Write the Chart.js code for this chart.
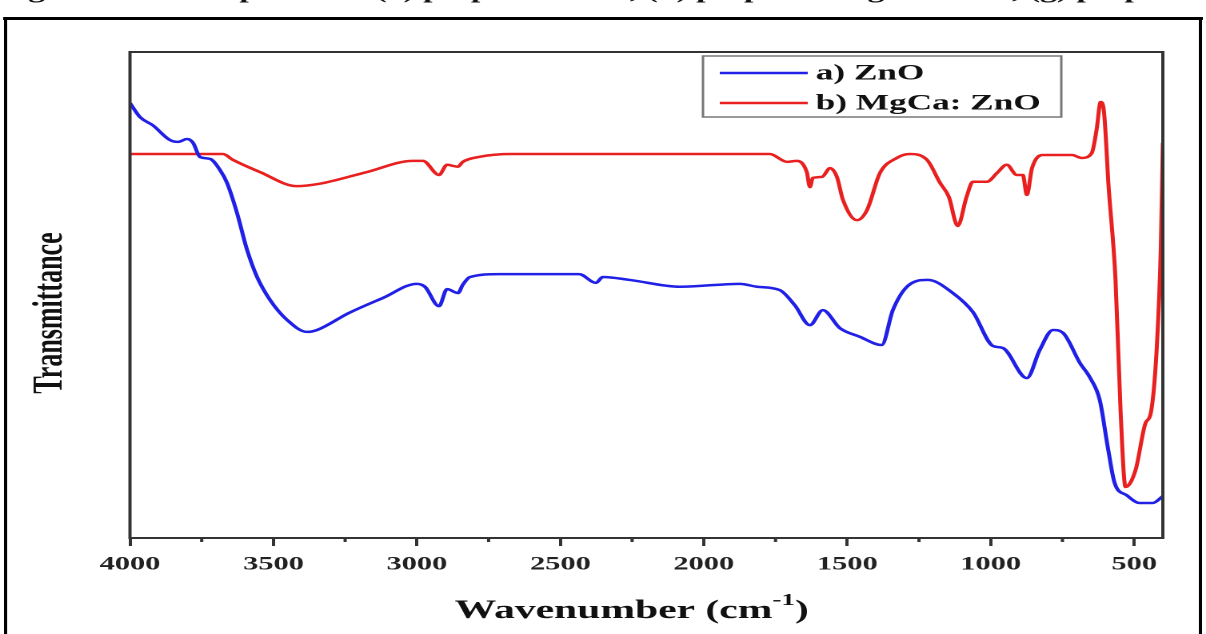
<!DOCTYPE html>
<html>
<head>
<meta charset="utf-8">
<title>FTIR spectra</title>
<script src="https://cdn.jsdelivr.net/npm/chart.js@4.4.1/dist/chart.umd.min.js"></script>
<style>
  html, body { margin: 0; padding: 0; background: #fff; overflow: hidden; }
  /* the source figure is stretched sideways, so the whole canvas is too */
  #wrap { position: absolute; left: 0; top: 0; width: 754px; height: 634px;
          transform: scaleX(1.5995); transform-origin: 0 0; }
</style>
</head>
<body>
<div id="wrap"><canvas id="chart" width="754" height="634"></canvas></div>
<script>
/* -----------------------
data
-------------------------- */
const zincWave = [4000, 3965, 3920, 3861, 3833, 3801, 3780, 3756, 3721, 3686,
  3662, 3627, 3592, 3557, 3512, 3453, 3383, 3348, 3237, 3118,
  3000, 2972, 2923, 2895, 2857, 2840, 2815, 2711, 2435, 2376,
  2352, 2258, 2083, 1874, 1815, 1735, 1683, 1630, 1585, 1526, 1456,
  1380, 1341, 1292, 1219, 1132, 1062, 992, 958, 874, 829,
  783, 748, 689, 655, 620, 592, 568, 526, 481, 435, 400];
const zincT = [89.5, 86.6, 84.9, 81.9, 81.5, 82.1, 81.3, 78.4, 78.0, 75.7,
  73.1, 66.9, 59.3, 53.7, 49.0, 44.9, 42.4, 42.8, 46.3, 49.4,
  52.3, 51.7, 47.7, 51.2, 50.4, 52.1, 53.7, 54.3, 54.3, 52.5,
  53.7, 53.1, 51.7, 52.3, 51.7, 51.0, 47.9, 43.8, 46.9, 43.2, 41.4,
  39.7, 46.9, 51.7, 53.1, 50.4, 46.5, 39.5, 39.1, 32.9, 38.7,
  42.8, 42.2, 36.0, 33.1, 28.4, 18.7, 11.3, 8.8, 7.2, 7.2, 8.6];

const mgWave = [4000, 3676, 3641, 3547, 3418, 3338, 3174, 3014, 2979, 2923,
  2895, 2857, 2840, 2784, 2669, 1770, 1710, 1676, 1641, 1630,
  1620, 1588, 1560, 1536, 1515, 1466, 1431, 1386, 1327, 1282,
  1222, 1177, 1146, 1115, 1084, 1062, 1013, 978, 944, 909,
  888, 874, 856, 819, 717, 683, 648, 631, 617, 606,
  589, 565, 547, 530, 495, 460, 442, 421, 407, 400];
const mgT = [79.0, 79.0, 77.8, 75.3, 72.4, 72.9, 75.3, 77.6, 77.6, 74.7,
  76.8, 76.4, 77.4, 78.4, 79.0, 79.0, 77.4, 77.6, 75.3, 72.2,
  74.1, 74.3, 76.1, 74.3, 69.6, 65.4, 67.5, 75.1, 78.2, 79.0,
  77.8, 73.1, 70.2, 64.2, 70.2, 73.3, 73.3, 75.1, 76.8, 74.7,
  74.7, 70.6, 76.1, 78.8, 78.8, 78.2, 79.2, 84.0, 89.7, 88.1,
  72.2, 53.1, 25.7, 10.5, 14.0, 23.7, 25.7, 39.3, 59.9, 81.3];

const seriesNames = ["a) ZnO", "b) MgCa: ZnO"];
const majorTicks = [4000, 3500, 3000, 2500, 2000, 1500, 1000, 500];
const minorTicks = [3750, 3250, 2750, 2250, 1750, 1250, 750];

const serif = '"Liberation Serif", "Times New Roman", serif';

/* -----------------------
extra drawing: box, legend, titles, frame
-------------------------- */
const decorations = {
  id: "decorations",
  afterDraw(chart) {
    const ctx = chart.ctx;
    const area = chart.chartArea;
    const xs = chart.scales.x;
    ctx.save();

    // plot box
    ctx.strokeStyle = "#333";
    ctx.lineWidth = 2;
    ctx.strokeRect(area.left, area.top, area.right - area.left, area.bottom - area.top);

    // minor ticks
    minorTicks.forEach(function (v) {
      const px = xs.getPixelForValue(v);
      ctx.beginPath();
      ctx.moveTo(px, area.bottom);
      ctx.lineTo(px, area.bottom + 4);
      ctx.stroke();
    });

    // legend inside the plot
    ctx.strokeStyle = "#777";
    ctx.lineWidth = 1.5;
    ctx.strokeRect(439.5, 56, 224, 61);
    chart.data.datasets.forEach(function (ds, i) {
      const y = 73 + i * 30;
      ctx.strokeStyle = ds.borderColor;
      ctx.lineWidth = 2.5;
      ctx.beginPath();
      ctx.moveTo(450, y);
      ctx.lineTo(505, y);
      ctx.stroke();
      ctx.fillStyle = "#111";
      ctx.font = "bold 22px " + serif;
      ctx.textAlign = "left";
      ctx.textBaseline = "middle";
      ctx.fillText(ds.label, 510, y + 1);
    });

    // x title with superscript
    ctx.fillStyle = "#111";
    ctx.textBaseline = "alphabetic";
    ctx.textAlign = "left";
    const mainFont = "bold 26px " + serif;
    const supFont = "bold 17px " + serif;
    ctx.font = mainFont;
    const w1 = ctx.measureText("Wavenumber (cm").width;
    const w3 = ctx.measureText(")").width;
    ctx.font = supFont;
    const w2 = ctx.measureText("-1").width;
    let tx = 395 - (w1 + w2 + w3) / 2;
    ctx.font = mainFont;
    ctx.fillText("Wavenumber (cm", tx, 618);
    tx += w1;
    ctx.font = supFont;
    ctx.fillText("-1", tx, 605);
    tx += w2;
    ctx.font = mainFont;
    ctx.fillText(")", tx, 618);

    // y title
    ctx.save();
    ctx.translate(32, 313);
    ctx.rotate(-Math.PI / 2);
    ctx.textAlign = "center";
    ctx.textBaseline = "middle";
    ctx.font = "bold 26px " + serif;
    ctx.fillText("Transmittance", 0, 0);
    ctx.restore();

    // caption cut off by the page edge, only its lowest pixels show
    ctx.save();
    ctx.beginPath();
    ctx.rect(0, 0, 754, 16);
    ctx.clip();
    ctx.fillStyle = "#111";
    ctx.font = "bold 21px " + serif;
    ctx.textAlign = "center";
    ctx.textBaseline = "alphabetic";
    ctx.fillText("Figure 2: FTIR spectra of (a) prepared ZnO, (b) prepared MgCa: ZnO, (g) prepared", 377, -2);
    ctx.restore();

    // outer frame
    ctx.strokeStyle = "#000";
    ctx.lineWidth = 3;
    ctx.beginPath();
    ctx.moveTo(2, 18.5);
    ctx.lineTo(752, 18.5);
    ctx.stroke();
    ctx.lineWidth = 2;
    ctx.beginPath();
    ctx.moveTo(3.5, 17);
    ctx.lineTo(3.5, 634);
    ctx.moveTo(750.5, 17);
    ctx.lineTo(750.5, 634);
    ctx.stroke();

    ctx.restore();
  }
};

/* -----------------------
chart
-------------------------- */
function toPoints(xs, ys) {
  return xs.map(function (x, i) { return { x: x, y: ys[i] }; });
}

new Chart(document.getElementById("chart"), {
  type: "line",
  data: {
    datasets: [{
      label: seriesNames[0],
      data: toPoints(zincWave, zincT),
      borderColor: "#2020e6",
      borderWidth: 2.5,
      pointRadius: 0,
      cubicInterpolationMode: "monotone",
      fill: false
    }, {
      label: seriesNames[1],
      data: toPoints(mgWave, mgT),
      borderColor: "#e82020",
      borderWidth: 2.5,
      pointRadius: 0,
      cubicInterpolationMode: "monotone",
      fill: false
    }]
  },
  options: {
    responsive: false,
    devicePixelRatio: 2,
    animation: false,
    layout: { padding: { left: 81.25, top: 52, right: 27, bottom: 0 } },
    plugins: {
      legend: { display: false },
      tooltip: { enabled: false },
      title: { display: false }
    },
    scales: {
      x: {
        type: "linear",
        reverse: true,
        min: 400,
        max: 4000,
        afterBuildTicks: function (scale) {
          scale.ticks = majorTicks.map(function (v) { return { value: v }; });
        },
        afterFit: function (scale) { scale.height = 96; },
        border: { display: false },
        grid: {
          drawOnChartArea: false,
          drawTicks: true,
          tickLength: 8,
          tickWidth: 2,
          tickColor: "#333"
        },
        ticks: {
          autoSkip: false,
          maxRotation: 0,
          padding: 7,
          color: "#222",
          font: { family: serif, size: 19, weight: "bold" },
          callback: function (value) { return String(value); }
        }
      },
      y: {
        display: false,
        min: 0,
        max: 100
      }
    }
  },
  plugins: [decorations]
});
</script>
</body>
</html>
